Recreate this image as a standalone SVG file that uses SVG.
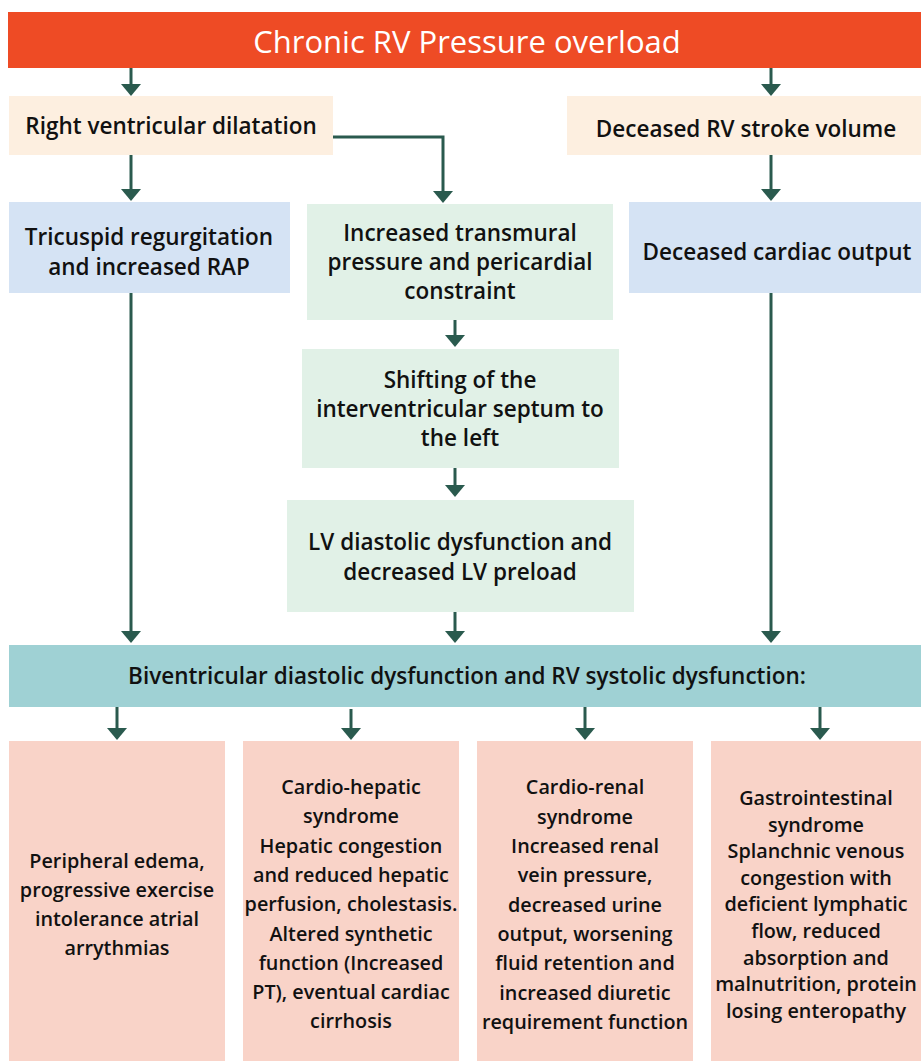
<svg xmlns="http://www.w3.org/2000/svg" width="921" height="1061" viewBox="0 0 921 1061">
<style>
text{font-family:"Open Sans","Noto Sans","Liberation Sans",sans-serif;font-weight:600;fill:#111;text-anchor:middle;font-size:22.5px}
.hd{fill:#fff;font-size:31px;font-weight:500}
.pk{fill:#F9D3C8}.cr{fill:#FDEFE0}.bl{fill:#D5E3F4}.gr{fill:#E1F1E7}
.pk ~ text{font-size:19.8px}
.c{fill:none;stroke:#2A5A4E;stroke-width:3;marker-end:url(#ah)}
</style>
<defs>
<marker id="ah" markerUnits="userSpaceOnUse" markerWidth="12" markerHeight="20" viewBox="0 0 12 20" refX="2" refY="10" orient="auto">
<path d="M0,0 L12,10 L0,20 Z" fill="#2A5A4E"/>
</marker>
</defs>
<g id="header"><rect x="8" y="12" width="913" height="56" fill="#EE4B25"/><text class="hd" x="467" y="53">Chronic RV Pressure overload</text></g>
<g id="rvd"><rect class="cr" x="9" y="96" width="324" height="59"/><text x="171" y="134">Right ventricular dilatation</text></g>
<g id="sv"><rect class="cr" x="567" y="96" width="354" height="59"/><text x="746" y="137">Deceased RV stroke volume</text></g>
<g id="tr"><rect class="bl" x="9" y="202" width="281" height="91"/><text x="149" y="245">Tricuspid regurgitation</text><text x="149" y="275">and increased RAP</text></g>
<g id="tm"><rect class="gr" x="307" y="204" width="306" height="116"/><text x="460" y="241">Increased transmural</text><text x="460" y="270">pressure and pericardial</text><text x="460" y="299">constraint</text></g>
<g id="co"><rect class="bl" x="629" y="202" width="292" height="91"/><text x="777" y="260">Deceased cardiac output</text></g>
<g id="sh"><rect class="gr" x="302" y="349" width="317" height="119"/><text x="460" y="388">Shifting of the</text><text x="460" y="417">interventricular septum to</text><text x="460" y="446">the left</text></g>
<g id="lv"><rect class="gr" x="287" y="500" width="347" height="112"/><text x="460" y="550">LV diastolic dysfunction and</text><text x="460" y="580">decreased LV preload</text></g>
<g id="bi"><rect x="9" y="645" width="912" height="62" fill="#9FD1D4"/><text x="467" y="684">Biventricular diastolic dysfunction and RV systolic dysfunction:</text></g>
<g id="p1"><rect class="pk" x="9" y="741" width="216" height="320"/>
<text x="117" y="868">Peripheral edema,</text><text x="117" y="897">progressive exercise</text><text x="117" y="926">intolerance atrial</text><text x="117" y="955">arrythmias</text></g>
<g id="p2"><rect class="pk" x="243" y="741" width="216" height="320"/>
<text x="351" y="794">Cardio-hepatic</text><text x="351" y="823">syndrome</text><text x="351" y="853">Hepatic congestion</text><text x="351" y="882">and reduced hepatic</text><text x="351" y="911">perfusion, cholestasis.</text><text x="351" y="941">Altered synthetic</text><text x="351" y="970">function (Increased</text><text x="351" y="999">PT), eventual cardiac</text><text x="351" y="1028">cirrhosis</text></g>
<g id="p3"><rect class="pk" x="477" y="741" width="216" height="320"/>
<text x="585" y="794">Cardio-renal</text><text x="585" y="824">syndrome</text><text x="585" y="853">Increased renal</text><text x="585" y="882">vein pressure,</text><text x="585" y="912">decreased urine</text><text x="585" y="941">output, worsening</text><text x="585" y="970">fluid retention and</text><text x="585" y="1000">increased diuretic</text><text x="585" y="1029">requirement function</text></g>
<g id="p4"><rect class="pk" x="711" y="741" width="210" height="320"/>
<text x="816" y="805">Gastrointestinal</text><text x="816" y="832">syndrome</text><text x="816" y="858">Splanchnic venous</text><text x="816" y="885">congestion with</text><text x="816" y="911">deficient lymphatic</text><text x="816" y="938">flow, reduced</text><text x="816" y="965">absorption and</text><text x="816" y="991">malnutrition, protein</text><text x="816" y="1018">losing enteropathy</text></g>
<g id="connectors">
<path class="c" d="M131,68 V86"/>
<path class="c" d="M771,68 V86"/>
<path class="c" d="M333,137 H443 V193"/>
<path class="c" d="M131,155 V191"/>
<path class="c" d="M771,155 V191"/>
<path class="c" d="M455,320 V337"/>
<path class="c" d="M455,468 V487"/>
<path class="c" d="M131,293 V633"/>
<path class="c" d="M455,612 V633"/>
<path class="c" d="M771,293 V633"/>
<path class="c" d="M117,707 V730"/>
<path class="c" d="M351,709 V730"/>
<path class="c" d="M585,707 V730"/>
<path class="c" d="M820,707 V730"/>
</g>
</svg>
